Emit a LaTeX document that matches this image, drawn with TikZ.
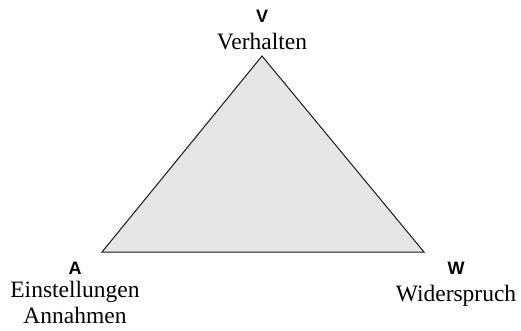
\documentclass[tikz,border=0pt]{standalone}
\usepackage{fontspec}
\setmainfont{Liberation Serif}
\newfontfamily\lblfont{Liberation Sans}
\begin{document}
\begin{tikzpicture}[x=1pt,y=-1pt,
  vlabel/.style={font=\lblfont\bfseries\fontsize{18}{18}\selectfont, inner sep=0pt},
  txt/.style={font=\fontsize{23.5}{24}\selectfont, inner sep=0pt, align=center},
  tri/.style={fill=black!10, draw=black!90, line width=1pt, line join=miter}]
\useasboundingbox (0,0) rectangle (521,330);
\coordinate (V) at (262,56);
\coordinate (A) at (102,252);
\coordinate (W) at (424,252);
\draw[tri] (V) -- (A) -- (W) -- cycle;
\node[vlabel] (lv) at (262,16) {V};
\node[txt] (tv) at (262,42) {Verhalten};
\node[vlabel] (la) at (75,268) {A};
\node[txt] (ta1) at (75,292) {Einstellungen};
\node[txt] (ta2) at (75,315) {Annahmen};
\node[vlabel] (lw) at (456,268) {W};
\node[txt] (tw) at (456,296) {Widerspruch};
\end{tikzpicture}
\end{document}
